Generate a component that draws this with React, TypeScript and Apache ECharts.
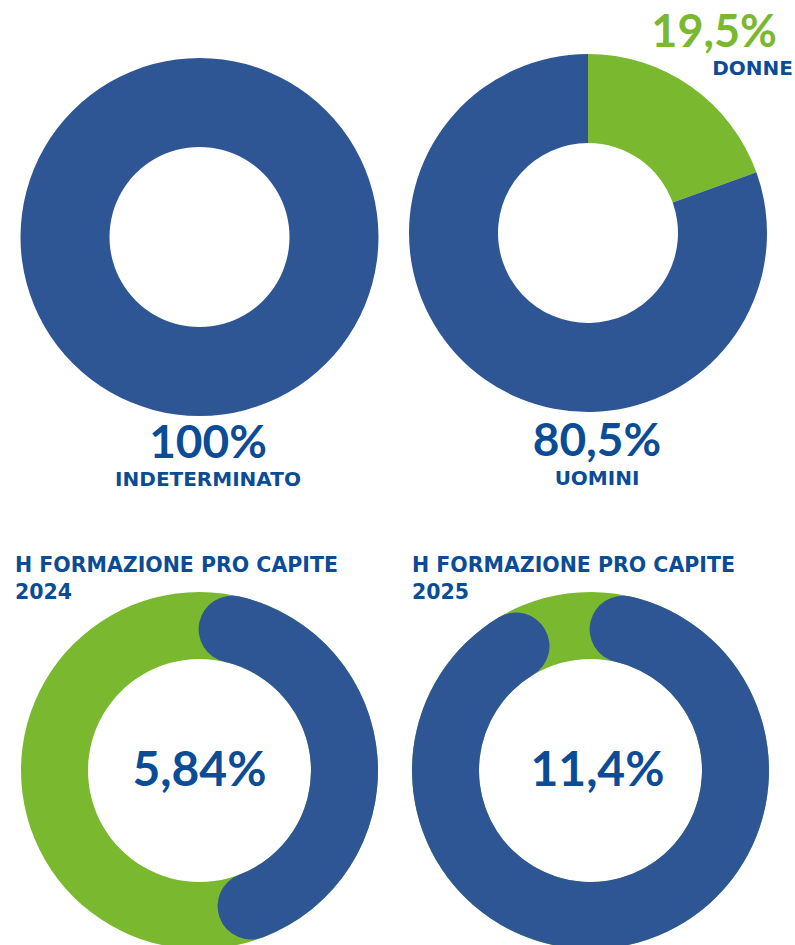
import React, { useEffect, useRef } from "react";
import * as echarts from "echarts";

// ---- data ----
const contractLabels = ["INDETERMINATO"];
const contractValues = [100];

const genderLabels = ["DONNE", "UOMINI"];
const genderValues = [19.5, 80.5];

const trainingTitle = "H FORMAZIONE PRO CAPITE";
const trainingYears = ["2024", "2025"];
const trainingRates = [5.84, 11.4];
// blue arc extent (% of full circle) as drawn in the picture
const trainingArcShares = [40.6, 87.8];

// ---- styling ----
const RING_BLUE = "#2F5694";
const GREEN = "#7AB92F";
const TEXT_BLUE = "#0B4C96";
const NUM_FONT = "Lato, 'Open Sans', sans-serif";
const LABEL_FONT = "'DejaVu Sans', 'Open Sans', sans-serif";

const fmt = (v: number) => String(v).replace(".", ",") + "%";

export default function App() {
  const ref = useRef<HTMLDivElement>(null);

  useEffect(() => {
    document.body.style.margin = "0";
    if (!ref.current) return;
    const chart = echarts.init(ref.current, undefined, { renderer: "svg" });

    const topCenters = [
      [199.5, 237],
      [588, 233],
    ];
    const bottomCenters = [
      [199.5, 770.5],
      [590.5, 770.5],
    ];
    const topRadius = [90, 179];
    const bottomRadius = [111.5, 178.5];

    const pieBase = {
      type: "pie",
      silent: true,
      label: { show: false },
      labelLine: { show: false },
      emphasis: { disabled: true },
      startAngle: 90,
      clockwise: true,
    };

    const series: any[] = [
      {
        ...pieBase,
        center: topCenters[0],
        radius: topRadius,
        data: contractLabels.map((n, i) => ({
          name: n,
          value: contractValues[i],
          itemStyle: { color: RING_BLUE },
        })),
      },
      {
        ...pieBase,
        center: topCenters[1],
        radius: topRadius,
        data: genderLabels.map((n, i) => ({
          name: n,
          value: genderValues[i],
          itemStyle: { color: i === 0 ? GREEN : RING_BLUE },
        })),
      },
    ];

    trainingYears.forEach((y, i) => {
      series.push({
        ...pieBase,
        center: bottomCenters[i],
        radius: bottomRadius,
        z: 1,
        data: [{ name: y + " base", value: 100, itemStyle: { color: GREEN } }],
      });
      series.push({
        type: "bar",
        coordinateSystem: "polar",
        polarIndex: i,
        silent: true,
        roundCap: true,
        barWidth: "100%",
        z: 5,
        itemStyle: { color: RING_BLUE },
        data: [trainingArcShares[i]],
      });
    });

    const graphic: any[] = [];
    const txt = (
      text: string,
      x: number,
      y: number,
      size: number,
      align: string,
      font: string,
      color: string = TEXT_BLUE
    ) => ({
      type: "text",
      x,
      y,
      silent: true,
      style: {
        text,
        fill: color,
        fontSize: size,
        fontWeight: "bold",
        fontFamily: font,
        textAlign: align,
        align,
        textVerticalAlign: "middle",
        verticalAlign: "middle",
      },
    });

    graphic.push(txt(fmt(contractValues[0]), 208, 440, 46, "center", NUM_FONT));
    graphic.push(txt(contractLabels[0], 208, 479, 20, "center", LABEL_FONT));
    graphic.push(txt(fmt(genderValues[1]), 597, 438, 46, "center", NUM_FONT));
    graphic.push(txt(genderLabels[1], 597, 478, 20, "center", LABEL_FONT));
    graphic.push(txt(fmt(genderValues[0]), 777, 30, 45, "right", NUM_FONT, GREEN));
    graphic.push(txt(genderLabels[0], 793, 68, 20, "right", LABEL_FONT));

    const titleX = [15, 412];
    trainingYears.forEach((y, i) => {
      graphic.push(txt(trainingTitle, titleX[i], 565, 20.5, "left", LABEL_FONT));
      graphic.push(txt(y, titleX[i], 592, 20.5, "left", LABEL_FONT));
      graphic.push(
        txt(
          fmt(trainingRates[i]),
          bottomCenters[i][0] + (i === 1 ? 7 : 0),
          767,
          48,
          "center",
          NUM_FONT
        )
      );
    });

    chart.setOption({
      animation: false,
      backgroundColor: "#ffffff",
      polar: bottomCenters.map((c) => ({ center: c, radius: bottomRadius })),
      angleAxis: bottomCenters.map((_, i) => ({
        polarIndex: i,
        type: "value",
        min: 0,
        max: 100,
        startAngle: 77,
        clockwise: true,
        show: false,
      })),
      radiusAxis: bottomCenters.map((_, i) => ({
        polarIndex: i,
        type: "category",
        data: [trainingYears[i]],
        show: false,
      })),
      series,
      graphic,
    });

    return () => chart.dispose();
  }, []);

  return <div ref={ref} style={{ width: 795, height: 945 }} />;
}
